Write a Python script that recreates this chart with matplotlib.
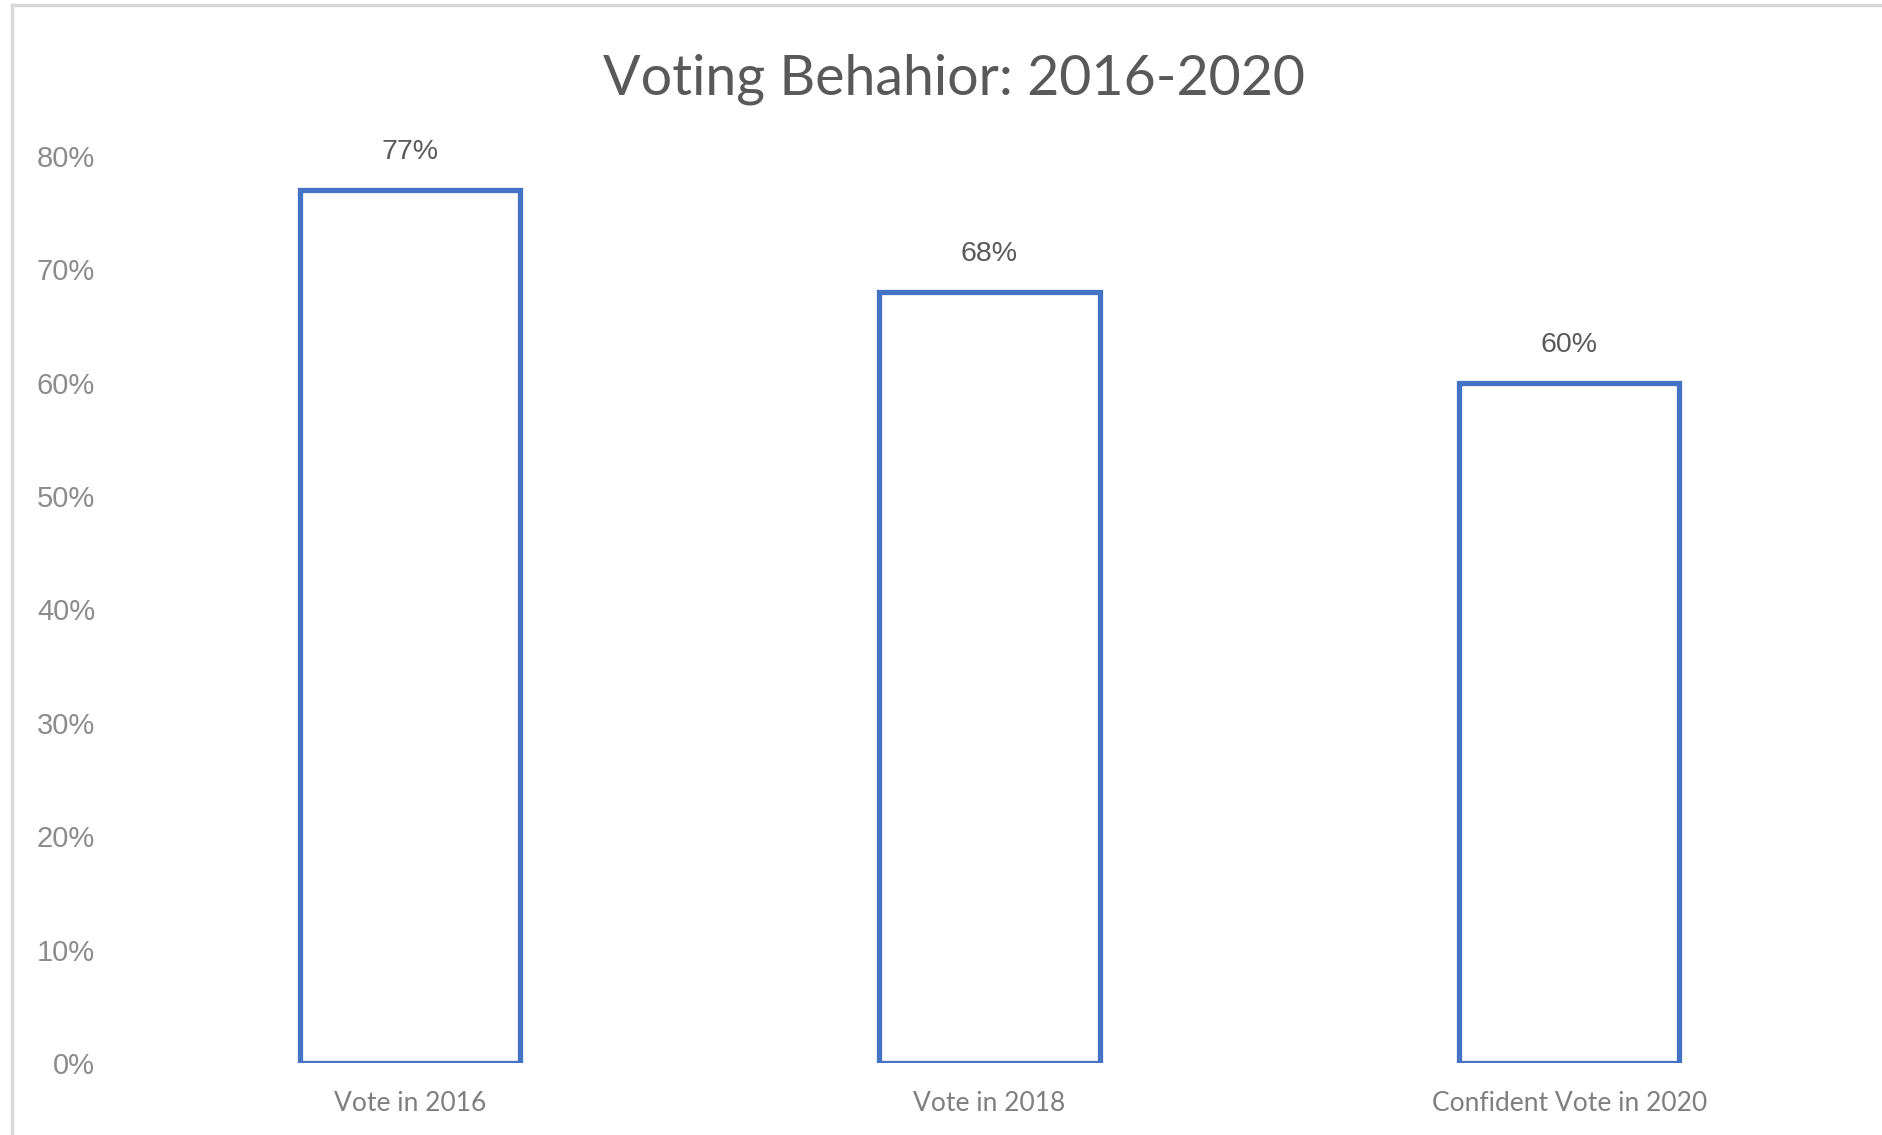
#!/usr/bin/env python3
"""
Voting behavior bar chart - outlined bars with percent labels
"""
import matplotlib
matplotlib.use('Agg')
import matplotlib.pyplot as plt
from matplotlib.lines import Line2D
from matplotlib.ticker import FuncFormatter

categories = ['Vote in 2016', 'Vote in 2018', 'Confident Vote in 2020']
values = [0.77, 0.68, 0.60]
yticks = [0, 0.1, 0.2, 0.3, 0.4, 0.5, 0.6, 0.7, 0.8]

BLUE = '#4472C4'

def main():
    W, H = 1882, 1135
    fig = plt.figure(figsize=(W / 100, H / 100), dpi=100)
    ax = fig.add_axes([120 / W, (H - 1063) / H, 1739 / W, 907 / H])

    x = range(len(categories))
    ax.bar(x, values, width=0.38, facecolor='white', edgecolor=BLUE, linewidth=3.8)

    # data labels above bars
    for xi, v in zip(x, values):
        ax.annotate(f'{v:.0%}', (xi, v), xytext=(0, 18), textcoords='offset points',
                    ha='center', va='bottom', fontsize=20.5, color='#595959',
                    family='Liberation Sans', annotation_clip=False)

    ax.set_xlim(-0.5, 2.5)
    ax.set_ylim(0, 0.8)
    ax.set_yticks(yticks)
    ax.yaxis.set_major_formatter(FuncFormatter(lambda v, _: f'{v:.0%}'))
    ax.set_xticks(list(x))
    ax.set_xticklabels(categories, fontsize=19, color='#7f7f7f', family='Lato')
    for lab in ax.get_yticklabels():
        lab.set_family('Liberation Sans')
        lab.set_fontsize(21)
        lab.set_color('#8c8c8c')
    ax.tick_params(axis='both', length=0)
    ax.tick_params(axis='y', pad=18)
    ax.tick_params(axis='x', pad=20)
    for s in ax.spines.values():
        s.set_visible(False)

    fig.text(954 / W, 1 - 79 / H, 'Voting Behahior: 2016-2020', ha='center', va='center',
             fontsize=40, color='#595959', family='Lato')

    # chart frame (top and left edges visible)
    fig.add_artist(Line2D([12 / W, 12 / W], [0, 1 - 5 / H], color='#d9d9d9', linewidth=2.5,
                          transform=fig.transFigure))
    fig.add_artist(Line2D([12 / W, 1], [1 - 5 / H, 1 - 5 / H], color='#d9d9d9', linewidth=2.5,
                          transform=fig.transFigure))

    fig.savefig('out.png', dpi=100)

if __name__ == '__main__':
    main()
